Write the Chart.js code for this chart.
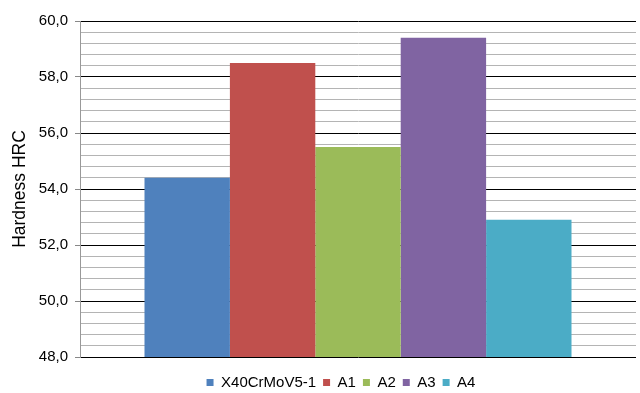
<!DOCTYPE html>
<html>
<head>
<meta charset="utf-8">
<script src="https://cdn.jsdelivr.net/npm/chart.js@4"></script>
<style>
html,body{margin:0;padding:0;background:#fff;}
#wrap{width:640px;height:393px;}
</style>
</head>
<body>
<div id="wrap"><canvas id="c" width="640" height="393"></canvas></div>
<script>
const categories = [''];
const seriesNames = ['X40CrMoV5-1', 'A1', 'A2', 'A3', 'A4'];
const seriesValues = [54.4, 58.5, 55.5, 59.4, 52.9];
const seriesColors = ['#4F81BD', '#C0504D', '#9BBB59', '#8064A2', '#4BACC6'];
const yMin = 48, yMax = 60, yMinorStep = 0.4, yMajorStep = 2;

const isMajor = v => Math.abs(v / yMajorStep - Math.round(v / yMajorStep)) < 1e-6;
const FONT = 'Liberation Sans, Arial, sans-serif';

// shift the legend to sit where the reference draws it
const legendShift = {
  id: 'legendShift',
  afterLayout(chart) {
    const lg = chart.legend;
    if (!lg) return;
    const dx = 23, dy = 11;
    lg.left += dx; lg.right += dx;
    lg.top += dy; lg.bottom += dy;
  }
};

new Chart(document.getElementById('c'), {
  type: 'bar',
  data: {
    labels: categories,
    datasets: seriesNames.map((n, i) => ({
      label: n,
      data: [seriesValues[i]],
      backgroundColor: seriesColors[i],
      borderWidth: 0
    }))
  },
  plugins: [legendShift],
  options: {
    responsive: false,
    animation: false,
    devicePixelRatio: 1,
    layout: { padding: { left: 0, right: 4, top: 21, bottom: 4 } },
    datasets: { bar: { categoryPercentage: 0.768, barPercentage: 1 } },
    plugins: {
      tooltip: { enabled: false },
      legend: {
        position: 'bottom',
        labels: {
          boxWidth: 7, boxHeight: 7, padding: 7,
          color: '#000',
          font: { family: FONT, size: 15 }
        }
      }
    },
    scales: {
      x: {
        afterFit: s => { s.height = 0; },
        grid: { display: false },
        border: { display: false },
        ticks: { display: false }
      },
      y: {
        min: yMin, max: yMax,
        afterFit: s => { s.width = 80; },
        afterBuildTicks: s => {
          const t = [];
          for (let k = 0; k <= Math.round((yMax - yMin) / yMinorStep); k++) t.push({ value: +(yMin + k * yMinorStep).toFixed(4) });
          s.ticks = t;
        },
        ticks: {
          autoSkip: false,
          color: '#000',
          padding: 7,
          font: { family: FONT, size: 15 },
          callback: v => isMajor(v) ? v.toFixed(1).replace('.', ',') : ''
        },
        grid: {
          color: c => (c.tick && isMajor(c.tick.value)) ? '#000' : '#b4b4b4',
          lineWidth: 1,
          tickLength: 5,
          tickColor: c => (c.tick && isMajor(c.tick.value)) ? '#888' : 'rgba(0,0,0,0)'
        },
        border: { color: '#999', width: 1 },
        title: {
          display: true, text: 'Hardness HRC', color: '#000',
          font: { family: FONT, size: 17.5 },
          padding: { top: 10, bottom: 4 }
        }
      }
    }
  }
});
</script>
</body>
</html>
